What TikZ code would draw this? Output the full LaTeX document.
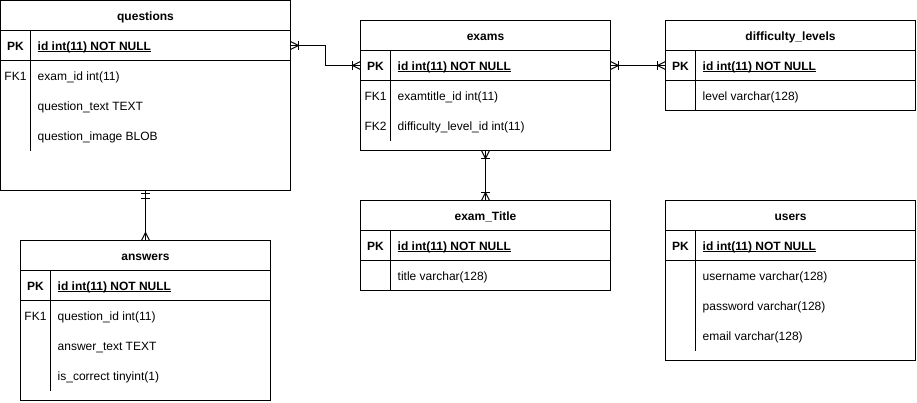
\documentclass[tikz,border=0pt]{standalone}
\usepackage{fontspec}
\setmainfont{Liberation Sans}
\usetikzlibrary{decorations.markings}
\tikzset{
  ln/.style={line width=1pt},
  tbl/.style={draw, line width=1pt, inner sep=0pt, outer sep=0pt, anchor=north west},
  rowbox/.style={inner sep=0pt, outer sep=0pt, anchor=north west, minimum height=30pt},
  ttl/.style={font=\fontsize{12}{14}\selectfont\bfseries, inner sep=0pt, anchor=base},
  pklbl/.style={font=\fontsize{12}{14}\selectfont\bfseries, inner sep=0pt, anchor=base},
  fklbl/.style={font=\fontsize{12}{14}\selectfont, inner sep=0pt, anchor=base},
  pkfld/.style={font=\fontsize{12}{14}\selectfont\bfseries, inner sep=0pt, anchor=base west},
  fld/.style={font=\fontsize{12}{14}\selectfont, inner sep=0pt, anchor=base west},
  conn/.style={line width=1pt},
  manystart/.style={postaction={decorate, decoration={markings, mark=at position 0 with {
     \draw[ln] (0pt,4pt) -- (8pt,0pt) -- (0pt,-4pt); \draw[ln] (8pt,4.5pt) -- (8pt,-4.5pt);}}}},
  manyend/.style={postaction={decorate, decoration={markings, mark=at position 1 with {
     \draw[ln] (0pt,4pt) -- (-8pt,0pt) -- (0pt,-4pt); \draw[ln] (-8pt,4.5pt) -- (-8pt,-4.5pt);}}}},
  onlymanyend/.style={postaction={decorate, decoration={markings, mark=at position 1 with {
     \draw[ln] (0pt,4pt) -- (-8pt,0pt) -- (0pt,-4pt);}}}},
  mandonestart/.style={postaction={decorate, decoration={markings, mark=at position 0 with {
     \draw[ln] (3pt,4.5pt) -- (3pt,-4.5pt); \draw[ln] (8pt,4.5pt) -- (8pt,-4.5pt);}}}},
}
\begin{document}
\begin{tikzpicture}[x=1pt, y=-1pt]
\useasboundingbox (0,0) rectangle (917,402);

% ---------- questions ----------
\node[tbl, minimum width=290pt, minimum height=190pt] (questions) at (0.5,0.5) {};
\node[rowbox, minimum width=290pt] (qpk) at (0.5,30.5) {};
\draw[ln] (0.5,30.5) -- (290.5,30.5) (0.5,60.5) -- (290.5,60.5) (30.5,30.5) -- (30.5,150.5);
\node[ttl] (qt) at (145.5,20) {questions};
\node[pklbl] (qk1) at (15.5,50) {PK};
\node[pkfld] (qf1) at (37.5,50) {id int(11) NOT NULL};
\draw[ln] ([yshift=-1.5pt]qf1.base west) -- ([yshift=-1.5pt]qf1.base east);
\node[fklbl] (qk2) at (15.5,80) {FK1};
\node[fld] (qf2) at (37.5,80) {exam\_id int(11)};
\node[fld] (qf3) at (37.5,110) {question\_text TEXT};
\node[fld] (qf4) at (37.5,140) {question\_image BLOB};

% ---------- exams ----------
\node[tbl, minimum width=250pt, minimum height=130pt] (exams) at (360.5,20.5) {};
\node[rowbox, minimum width=250pt] (epk) at (360.5,50.5) {};
\draw[ln] (360.5,50.5) -- (610.5,50.5) (360.5,80.5) -- (610.5,80.5) (390.5,50.5) -- (390.5,140.5);
\node[ttl] (et) at (485.5,40) {exams};
\node[pklbl] (ek1) at (375.5,70) {PK};
\node[pkfld] (ef1) at (397.5,70) {id int(11) NOT NULL};
\draw[ln] ([yshift=-1.5pt]ef1.base west) -- ([yshift=-1.5pt]ef1.base east);
\node[fklbl] (ek2) at (375.5,100) {FK1};
\node[fld] (ef2) at (397.5,100) {examtitle\_id int(11)};
\node[fklbl] (ek3) at (375.5,130) {FK2};
\node[fld] (ef3) at (397.5,130) {difficulty\_level\_id int(11)};

% ---------- difficulty_levels ----------
\node[tbl, minimum width=250pt, minimum height=90pt] (diff) at (665.5,20.5) {};
\node[rowbox, minimum width=250pt] (dpk) at (665.5,50.5) {};
\draw[ln] (665.5,50.5) -- (915.5,50.5) (665.5,80.5) -- (915.5,80.5) (695.5,50.5) -- (695.5,110.5);
\node[ttl] (dt) at (790.5,40) {difficulty\_levels};
\node[pklbl] (dk1) at (680.5,70) {PK};
\node[pkfld] (df1) at (702.5,70) {id int(11) NOT NULL};
\draw[ln] ([yshift=-1.5pt]df1.base west) -- ([yshift=-1.5pt]df1.base east);
\node[fld] (df2) at (702.5,100) {level varchar(128)};

% ---------- exam_Title ----------
\node[tbl, minimum width=250pt, minimum height=90pt] (etitle) at (360.5,200.5) {};
\draw[ln] (360.5,230.5) -- (610.5,230.5) (360.5,260.5) -- (610.5,260.5) (390.5,230.5) -- (390.5,290.5);
\node[ttl] (tt) at (485.5,220) {exam\_Title};
\node[pklbl] (tk1) at (375.5,250) {PK};
\node[pkfld] (tf1) at (397.5,250) {id int(11) NOT NULL};
\draw[ln] ([yshift=-1.5pt]tf1.base west) -- ([yshift=-1.5pt]tf1.base east);
\node[fld] (tf2) at (397.5,280) {title varchar(128)};

% ---------- users ----------
\node[tbl, minimum width=250pt, minimum height=160pt] (users) at (665.5,200.5) {};
\draw[ln] (665.5,230.5) -- (915.5,230.5) (665.5,260.5) -- (915.5,260.5) (695.5,230.5) -- (695.5,350.5);
\node[ttl] (ut) at (790.5,220) {users};
\node[pklbl] (uk1) at (680.5,250) {PK};
\node[pkfld] (uf1) at (702.5,250) {id int(11) NOT NULL};
\draw[ln] ([yshift=-1.5pt]uf1.base west) -- ([yshift=-1.5pt]uf1.base east);
\node[fld] (uf2) at (702.5,280) {username varchar(128)};
\node[fld] (uf3) at (702.5,310) {password varchar(128)};
\node[fld] (uf4) at (702.5,340) {email varchar(128)};

% ---------- answers ----------
\node[tbl, minimum width=250pt, minimum height=160pt] (answers) at (20.5,240.5) {};
\draw[ln] (20.5,270.5) -- (270.5,270.5) (20.5,300.5) -- (270.5,300.5) (50.5,270.5) -- (50.5,390.5);
\node[ttl] (at) at (145.5,260) {answers};
\node[pklbl] (ak1) at (35.5,290) {PK};
\node[pkfld] (af1) at (57.5,290) {id int(11) NOT NULL};
\draw[ln] ([yshift=-1.5pt]af1.base west) -- ([yshift=-1.5pt]af1.base east);
\node[fklbl] (ak2) at (35.5,320) {FK1};
\node[fld] (af2) at (57.5,320) {question\_id int(11)};
\node[fld] (af3) at (57.5,350) {answer\_text TEXT};
\node[fld] (af4) at (57.5,380) {is\_correct tinyint(1)};

% ---------- connectors ----------
\draw[conn, manystart, manyend] (qpk.east) -- ++(35,0) |- (epk.west);
\draw[conn, manystart, manyend] (epk.east) -- (dpk.west);
\draw[conn, manystart, manyend] (exams.south) -- (etitle.north);
\draw[conn, mandonestart, onlymanyend] (questions.south) -- (answers.north);
\end{tikzpicture}
\end{document}
